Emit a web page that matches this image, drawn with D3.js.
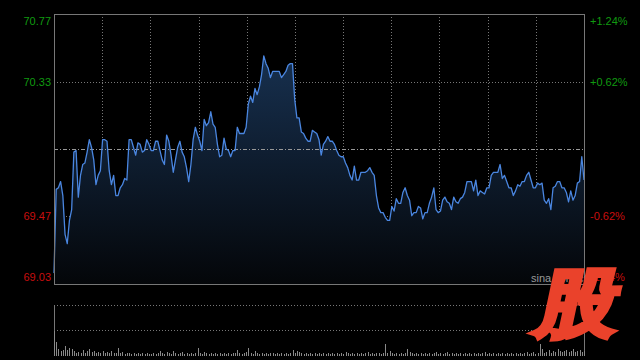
<!DOCTYPE html>
<html><head><meta charset="utf-8">
<script src="https://cdn.jsdelivr.net/npm/d3@7"></script>
<style>
html,body{margin:0;padding:0;background:#000;}
svg{display:block;}
text{font-family:"Liberation Sans",Arial,sans-serif;}
</style></head>
<body>
<svg id="chart" width="640" height="360"></svg>
<script>
// ---- data ----
const prevClose = 69.90;
const priceTicks = [70.77, 70.33, 69.47, 69.03];
const pctLabels = ["+1.24%", "+0.62%", "-0.62%", "-1.24%"];
const prices = [
69.10,69.64,69.65,69.69,69.60,69.35,69.29,69.44,69.51,69.88,
69.89,69.59,69.73,69.80,69.81,69.88,69.96,69.91,69.83,69.67,
69.73,69.76,69.96,69.96,69.95,69.76,69.67,69.73,69.60,69.60,
69.65,69.67,69.71,69.70,69.96,69.96,69.91,69.86,69.94,69.93,
69.88,69.89,69.96,69.93,69.89,69.89,69.95,69.95,69.89,69.83,
69.80,69.99,69.95,69.86,69.75,69.83,69.91,69.95,69.88,69.85,
69.78,69.69,69.80,69.96,70.04,69.99,69.95,69.89,70.09,70.05,
70.07,70.14,70.06,70.04,69.93,69.85,69.86,69.97,69.90,69.89,
69.85,69.89,69.89,70.04,70.00,70.00,70.00,70.04,70.19,70.24,
70.20,70.29,70.25,70.30,70.38,70.50,70.45,70.42,70.36,70.40,
70.40,70.40,70.40,70.36,70.38,70.40,70.44,70.45,70.45,70.22,
70.10,70.10,70.01,70.00,69.97,69.95,69.95,70.02,70.01,70.00,
69.96,69.86,69.93,69.95,69.98,69.95,69.95,69.93,69.89,69.86,
69.85,69.85,69.81,69.78,69.73,69.70,69.79,69.70,69.70,69.75,
69.75,69.75,69.76,69.78,69.75,69.73,69.60,69.52,69.49,69.49,
69.46,69.44,69.44,69.53,69.50,69.58,69.55,69.55,69.62,69.65,
69.60,69.57,69.47,69.49,69.49,69.53,69.52,69.45,69.49,69.49,
69.55,69.59,69.65,69.51,69.49,69.50,69.57,69.59,69.56,69.55,
69.51,69.59,69.56,69.55,69.58,69.59,69.62,69.69,69.69,69.69,
69.63,69.70,69.60,69.63,69.62,69.61,69.65,69.65,69.73,69.75,
69.75,69.75,69.80,69.71,69.73,69.69,69.65,69.65,69.60,69.63,
69.67,69.66,69.69,69.69,69.73,69.75,69.70,69.65,69.65,69.68,
69.67,69.68,69.57,69.55,69.58,69.51,69.65,69.66,69.69,69.69,
69.65,69.65,69.62,69.56,69.63,69.57,69.60,69.68,69.69,69.85,
69.70
];
const volumes = [
2500,1400,700,500,600,1000,600,800,700,500,
300,400,300,600,300,500,700,400,500,300,
400,300,500,300,400,300,500,300,300,800,
300,400,200,300,300,200,300,200,300,200,
300,200,300,200,200,300,200,300,500,300,
200,400,300,200,500,300,200,300,400,200,
300,200,300,200,300,800,300,200,400,300,
200,300,200,300,200,300,200,300,200,300,
200,300,300,600,300,200,300,400,800,300,
200,500,300,200,300,200,300,200,300,300,
200,300,200,300,200,300,200,300,600,300,
500,400,300,200,300,200,300,200,300,200,
300,200,300,200,300,200,300,200,300,200,
300,200,400,300,200,300,200,300,200,300,
200,300,400,200,300,200,300,300,200,300,
1200,300,500,300,200,300,200,300,200,300,
700,400,300,200,300,200,300,200,300,200,
300,200,300,400,200,300,200,300,400,200,
300,200,300,200,300,200,300,200,300,200,
300,200,300,200,300,400,200,300,200,300,
200,300,200,300,200,300,200,300,200,300,
200,300,200,300,400,200,300,400,200,300,
1200,700,300,400,600,300,500,400,700,500,
400,500,600,400,500,700,400,500,600,400,
500
];
const volMax = 5100;
const logoText = "股";
const watermark = "sina.com.cn";

// ---- layout ----
const L = 54, R = 584, T = 14, B = 284;
const VT = 305, VM = 330, VB = 356;
const svg = d3.select("#chart");

const x = d3.scaleLinear().domain([0, prices.length - 1]).range([L, R]);
const y = d3.scaleLinear().domain([69.03, 70.77]).range([B, T]);
const yv = d3.scaleLinear().domain([0, volMax]).range([VB, VT]);

// gradient
const defs = svg.append("defs");
const g = defs.append("linearGradient").attr("id", "fillg")
  .attr("x1", 0).attr("y1", 0).attr("x2", 0).attr("y2", 1);
g.append("stop").attr("offset", "0%").attr("stop-color", "#17304f");
g.append("stop").attr("offset", "100%").attr("stop-color", "#040609");

// vertical grid
const vgrid = d3.range(1, 11).map(k => k * (prices.length - 1) / 11);
svg.append("g").selectAll("line").data(vgrid).join("line")
  .attr("x1", d => Math.round(x(d)) + 0.5).attr("x2", d => Math.round(x(d)) + 0.5)
  .attr("y1", T).attr("y2", B)
  .attr("stroke", "#777").attr("stroke-dasharray", "1,2");

// horizontal grid
svg.append("g").selectAll("line").data([70.33, 69.47]).join("line")
  .attr("x1", L).attr("x2", R)
  .attr("y1", d => Math.round(y(d)) + 0.5).attr("y2", d => Math.round(y(d)) + 0.5)
  .attr("stroke", "#777").attr("stroke-dasharray", "1,2");

// area + line
const area = d3.area().x((d, i) => x(i)).y0(B).y1(d => y(d));
svg.append("path").datum(prices).attr("d", area).attr("fill", "url(#fillg)");

svg.append("line")
  .attr("x1", L).attr("x2", R)
  .attr("y1", Math.round(y(prevClose)) + 0.5).attr("y2", Math.round(y(prevClose)) + 0.5)
  .attr("stroke", "#999").attr("stroke-dasharray", "4,2,1,2");

const line = d3.line().x((d, i) => x(i)).y(d => y(d));
svg.append("path").datum(prices).attr("d", line)
  .attr("fill", "none").attr("stroke", "#4a86e0").attr("stroke-width", 1.3)
  .attr("stroke-linejoin", "round");

// frame
svg.append("rect").attr("x", L + 0.5).attr("y", T + 0.5)
  .attr("width", R - L).attr("height", B - T)
  .attr("fill", "none").attr("stroke", "#777");

// axes labels
const axL = d3.axisLeft(y).tickValues(priceTicks).tickSize(0).tickPadding(3)
  .tickFormat(d3.format(".2f"));
const gl = svg.append("g").attr("transform", `translate(${L},0)`).call(axL);
gl.select(".domain").remove();
gl.selectAll("text").attr("font-size", 11)
  .attr("fill", d => d > prevClose ? "#109a10" : "#c80e0e")
  .attr("font-family", "'Liberation Sans', Arial, sans-serif")
  .attr("dy", (d, i) => i === 0 ? "0.95em" : (i === priceTicks.length - 1 ? "-0.3em" : "0.32em"));

const axR = d3.axisRight(y).tickValues(priceTicks).tickSize(0).tickPadding(6)
  .tickFormat((d, i) => pctLabels[i]);
const gr = svg.append("g").attr("transform", `translate(${R},0)`).call(axR);
gr.select(".domain").remove();
gr.selectAll("text").attr("font-size", 11)
  .attr("fill", d => d > prevClose ? "#109a10" : "#c80e0e")
  .attr("font-family", "'Liberation Sans', Arial, sans-serif")
  .attr("dy", (d, i) => i === 0 ? "0.95em" : (i === priceTicks.length - 1 ? "-0.3em" : "0.32em"));

// volume panel
svg.append("g").selectAll("line").data([VT, VM]).join("line")
  .attr("x1", L).attr("x2", R)
  .attr("y1", d => Math.round(d) + 0.5).attr("y2", d => Math.round(d) + 0.5)
  .attr("stroke", "#777").attr("stroke-dasharray", "1,2");
svg.append("g").selectAll("line").data([L, R]).join("line")
  .attr("x1", d => d + 0.5).attr("x2", d => d + 0.5)
  .attr("y1", VT).attr("y2", VB)
  .attr("stroke", "#777");
svg.append("g").selectAll("line").data(volumes).join("line")
  .attr("x1", (d, i) => Math.round(x(i)) + 0.5).attr("x2", (d, i) => Math.round(x(i)) + 0.5)
  .attr("y1", VB).attr("y2", d => yv(d))
  .attr("stroke", "#8a8a8a").attr("stroke-width", 1);

// watermark and logo
svg.append("text").attr("x", 531).attr("y", 282).text(watermark)
  .attr("font-size", 11).attr("fill", "#999");
svg.append("text").text(logoText)
  .attr("transform", "translate(574,328) skewX(-12) scale(1.04,0.95)")
  .attr("text-anchor", "middle")
  .attr("font-family", "'Noto Sans CJK SC','Noto Sans CJK JP',sans-serif")
  .attr("font-weight", 900).attr("font-size", 76)
  .attr("fill", "#ea422b").attr("stroke", "#ea422b").attr("stroke-width", 5)
  .attr("stroke-linejoin", "miter");
</script>
</body></html>
